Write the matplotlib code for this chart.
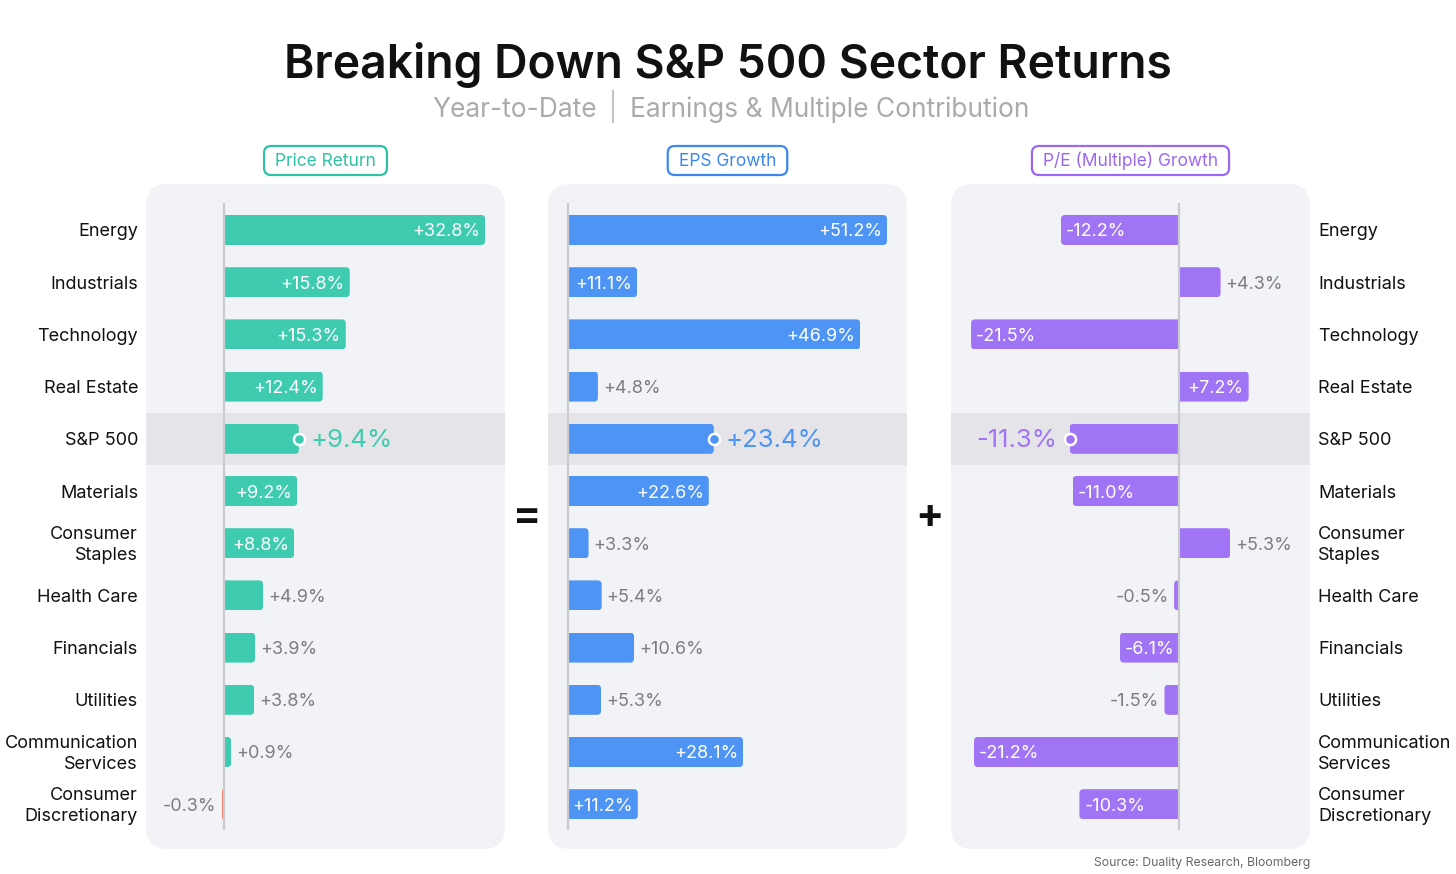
import matplotlib.pyplot as plt
from matplotlib.patches import FancyBboxPatch

plt.rcParams['font.family'] = ['Inter', 'DejaVu Sans']

# data
sectors = ["Energy", "Industrials", "Technology", "Real Estate", "S&P 500", "Materials",
           "Consumer\nStaples", "Health Care", "Financials", "Utilities",
           "Communication\nServices", "Consumer\nDiscretionary"]
price_return = [32.8, 15.8, 15.3, 12.4, 9.4, 9.2, 8.8, 4.9, 3.9, 3.8, 0.9, -0.3]
eps_growth = [51.2, 11.1, 46.9, 4.8, 23.4, 22.6, 3.3, 5.4, 10.6, 5.3, 28.1, 11.2]
pe_growth = [-12.2, 4.3, -21.5, 7.2, -11.3, -11.0, 5.3, -0.5, -6.1, -1.5, -21.2, -10.3]
panel_titles = ["Price Return", "EPS Growth", "P/E (Multiple) Growth"]
sp_index = 4

W, H = 1456, 874
PT = 0.72  # px -> pt at dpi 100
DY = -2 * PT  # nudge text down a little so it sits on the bar centre

fig = plt.figure(figsize=(W / 100, H / 100), dpi=100)
fig.patch.set_facecolor('white')
renderer = fig.canvas.get_renderer()

bg = fig.add_axes([0, 0, 1, 1], zorder=0)
bg.set_xlim(0, W)
bg.set_ylim(H, 0)
bg.axis('off')

# title block
bg.text(728, 78, "Breaking Down S&P 500 Sector Returns", ha='center', va='baseline',
        fontsize=33.3, fontweight='semibold', color='#111111')
bg.text(597, 117, "Year-to-Date", ha='right', va='baseline', fontsize=19, color='#ababab')
bg.plot([613, 613], [91, 122], color='#c4c4c4', lw=1.5)
bg.text(630, 117, "Earnings & Multiple Contribution", ha='left', va='baseline',
        fontsize=19, color='#ababab')

panel_left = [146, 548, 951]
panel_w = 359
top, bottom = 184, 849
row0, pitch = 230, 52.2
zeros = [224, 568, 1179]
scales = [7.96, 6.23, 9.67]  # px per percent
bar_colors = ['#3ecbb0', '#4d94f4', '#a074f5']
head_colors = ['#2fc1a3', '#3d88ef', '#9b68f2']
neg_color = '#f47b6b'
series = [price_return, eps_growth, pe_growth]

axes = []
for k in range(3):
    x0 = panel_left[k]
    r = 22
    bg.add_patch(FancyBboxPatch((x0 + r, top + r), panel_w - 2 * r, bottom - top - 2 * r,
                                boxstyle=f"round,pad={r}", fc='#f2f3f7', ec='none'))

    # header tag
    cx = x0 + panel_w / 2
    t = bg.text(cx, 161, panel_titles[k], ha='center', va='center', fontsize=12.5,
                color=head_colors[k], zorder=3)
    bb = t.get_window_extent(renderer)
    bw, bh = bb.width + 22, 29
    bg.add_patch(FancyBboxPatch((cx - bw / 2 + 7, 146 + 7), bw - 14, bh - 14,
                                boxstyle="round,pad=7", fc='white', ec=head_colors[k],
                                lw=1.6, zorder=2))

    ax = fig.add_axes([x0 / W, 1 - bottom / H, panel_w / W, (bottom - top) / H], zorder=1)
    ax.patch.set_alpha(0)
    ax.axis('off')
    z, s = zeros[k], scales[k]
    ax.set_xlim(-(z - x0) / s, (x0 + panel_w - z) / s)
    ax.set_ylim((bottom - row0) / pitch, (top - row0) / pitch)
    axes.append(ax)

    vals = series[k]
    ys = list(range(len(vals)))
    cols = [bar_colors[k] if (v >= 0 or k > 0) else neg_color for v in vals]
    ax.axhspan(sp_index - 0.5, sp_index + 0.5, color='#e4e4e9', lw=0, zorder=0.5)
    bars = ax.barh(ys, vals, height=0.575, color=cols, zorder=2)

    # round the outer end of each bar, keep the zero end square
    for rect, c in zip(bars, cols):
        bx, by, bwid, bht = rect.get_x(), rect.get_y(), rect.get_width(), rect.get_height()
        lo, hi = min(bx, bx + bwid), max(bx, bx + bwid)
        rad_px = min(4.0, (hi - lo) * s)
        rx = rad_px / s
        ry = rad_px / pitch
        if bwid >= 0:
            lo -= rx
        else:
            hi += rx
        if rx > 0:
            fb = FancyBboxPatch((lo + rx, by + ry), (hi - lo) - 2 * rx, bht - 2 * ry,
                                boxstyle=f"round,pad={rx},rounding_size={rx}",
                                mutation_aspect=ry / rx, fc=c, ec='none', zorder=2)
            ax.add_patch(fb)
            fb.set_clip_path(rect)
            rect.set_alpha(0)

    ax.vlines(0, -0.52, 11.5, color='#cbcbcf', lw=1.6, zorder=3)

    for i, v in enumerate(vals):
        lab = f"{v:+.1f}%"
        sign = 1 if v >= 0 else -1
        if i == sp_index:
            ax.plot(v, i, 'o', ms=8, mfc=bar_colors[k], mec='white', mew=1.8, zorder=4)
            ax.annotate(lab, (v, i), xytext=(sign * 12 * PT, DY), textcoords='offset points',
                        ha='left' if sign > 0 else 'right', va='center',
                        fontsize=18.5, color=bar_colors[k], zorder=5)
            continue
        t = ax.annotate(lab, (v, i), xytext=(-sign * 5 * PT, DY), textcoords='offset points',
                        ha='right' if sign > 0 else 'left', va='center',
                        fontsize=13, color='white', zorder=5)
        tw = t.get_window_extent(renderer).width
        if tw + 7 > abs(v) * s:
            t.xyann = (sign * 5 * PT, DY)
            t.set_ha('left' if sign > 0 else 'right')
            t.set_color('#7d7d7d')

# sector labels on both sides
for i, name in enumerate(sectors):
    axes[0].annotate(name, (0, i), xycoords=('axes fraction', 'data'),
                     xytext=(-8 * PT, DY), textcoords='offset points', ha='right', va='center',
                     multialignment='right', fontsize=13, color='#111111', linespacing=1.3)
    axes[2].annotate(name, (1, i), xycoords=('axes fraction', 'data'),
                     xytext=(8 * PT, DY), textcoords='offset points', ha='left', va='center',
                     multialignment='left', fontsize=13, color='#111111', linespacing=1.3)

# operators between panels
bg.text(527, 517, "=", ha='center', va='center', fontsize=30, fontweight='bold', color='#111111')
bg.text(929, 517, "+", ha='center', va='center', fontsize=30, fontweight='bold', color='#111111')

bg.text(1310, 863, "Source: Duality Research, Bloomberg", ha='right', va='center',
        fontsize=8.8, color='#666666')

fig.savefig("out.png", dpi=100)
